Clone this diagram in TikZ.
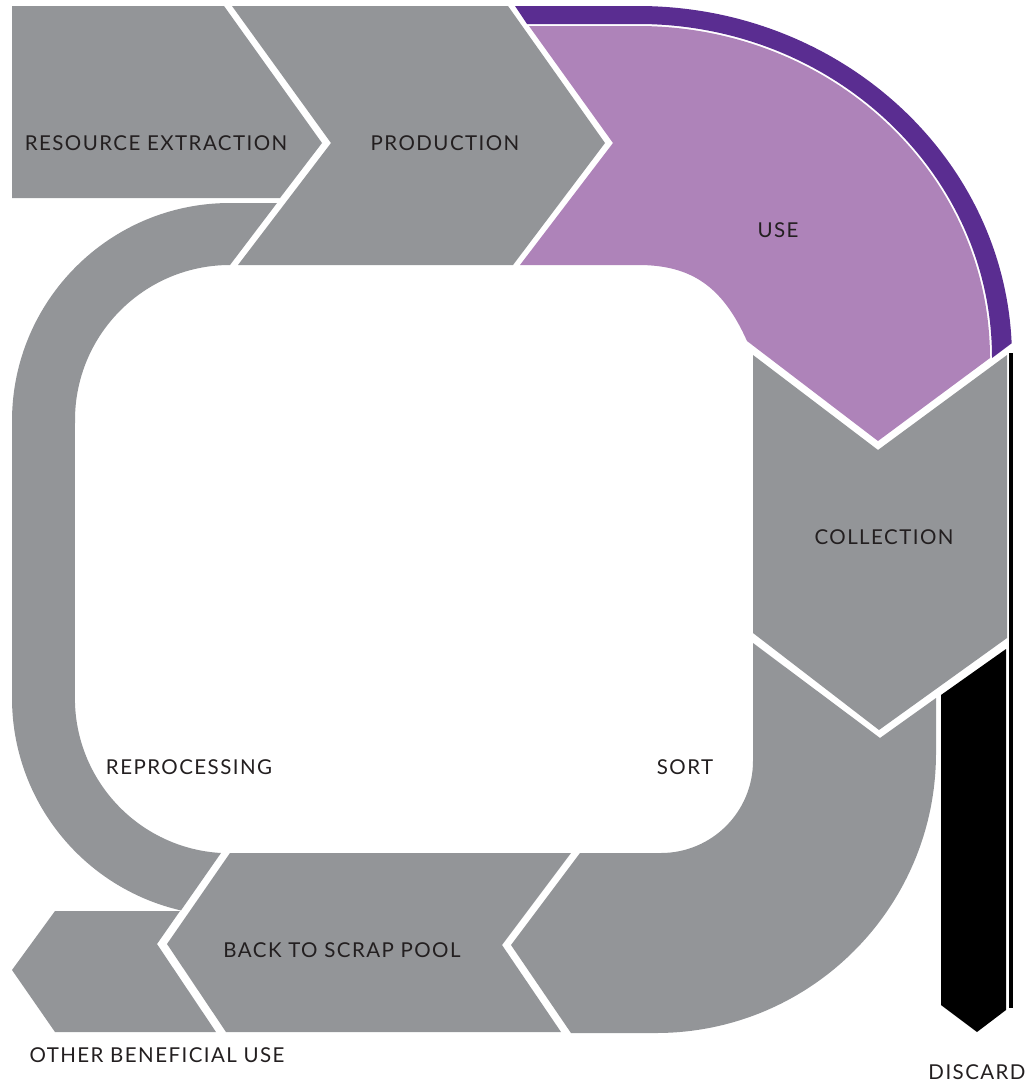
\documentclass[tikz,border=0pt]{standalone}
\usepackage{fontspec}
\setmainfont[LetterSpace=7]{Lato}
\definecolor{stagegray}{HTML}{939598}
\definecolor{uselilac}{HTML}{AE83B9}
\definecolor{usepurple}{HTML}{5A2D91}
\definecolor{labelink}{HTML}{231F20}
\begin{document}
\begin{tikzpicture}[x=1pt, y=-1pt]
\def\stagecolor{stagegray}
\def\labelfontsize{\fontsize{20.5}{24}\selectfont}
\tikzset{stagelabel/.style={font=\labelfontsize, text=labelink, inner sep=0pt}}
\useasboundingbox (0,0) rectangle (1030,1087);

\begin{scope} % TOP ROW
\fill[\stagecolor] (12,6) -- (224,6) -- (322,143) -- (280,198) -- (12,198) -- cycle;
\fill[\stagecolor] (232,6) -- (508,6) -- (605,143) -- (513,265) -- (238,265) -- (331,143) -- cycle;
\fill[usepurple] (515,6) -- (638,6) arc[start angle=270, end angle=357.6, x radius=374, y radius=352]
  -- (992,358) arc[start angle=0, end angle=-90, x radius=354, y radius=334] -- (527,24) -- cycle;
\fill[uselilac] (529,26) -- (638,26) arc[start angle=270, end angle=360, x radius=352, y radius=332]
  -- (878,441) -- (747,341) .. controls (722,285) and (690,265) .. (638,265) -- (520,265) -- (613,143) -- cycle;
\end{scope}

\begin{scope} % RIGHT SIDE
\fill[\stagecolor] (753,355) -- (878,450) -- (1007,355) -- (1007,638) -- (879,730) -- (753,633) -- cycle;
\fill[\stagecolor] (753,643) -- (880,738) -- (936,698) -- (936,753) arc[start angle=0, end angle=90, radius=280]
  -- (571,1033) -- (511,945) -- (580,853) -- (661,853) arc[start angle=90, end angle=0, radius=92] -- cycle;
\fill[black] (941,695) -- (1006,649) -- (1006,1010) -- (977,1032) -- (941,1005) -- cycle;
\draw[line width=3.5pt] (1011,353) -- (1011,1008);
\end{scope}

\begin{scope} % BOTTOM ROW AND LEFT SIDE
\fill[\stagecolor] (230,853) -- (571,853) -- (502,945) -- (561,1032) -- (226,1032) -- (167,944) -- cycle;
\fill[\stagecolor] (55,911) -- (180,911) -- (157,944) -- (216,1032) -- (55,1032) -- (12,970) -- cycle;
\fill[\stagecolor] (277,203) -- (230,203) arc[start angle=270, end angle=180, radius=218]
  -- (12,698) arc[start angle=180, end angle=103, radius=218]
  -- (221,853) arc[start angle=93.3, end angle=180, radius=155]
  -- (75,420) arc[start angle=180, end angle=270, radius=155] -- cycle;
\end{scope}

\node [stagelabel] (resource) at (156,143) {RESOURCE EXTRACTION};
\node [stagelabel] (production) at (445,143) {PRODUCTION};
\node [stagelabel] (use) at (778,230) {USE};
\node [stagelabel] (collection) at (884,537) {COLLECTION};
\node [stagelabel] (sort) at (685,767) {SORT};
\node [stagelabel] (reprocessing) at (189,767) {REPROCESSING};
\node [stagelabel] (scrappool) at (342,950) {BACK TO SCRAP POOL};
\node [stagelabel] (otheruse) at (157,1055) {OTHER BENEFICIAL USE};
\node [stagelabel] (discard) at (977,1072) {DISCARD};
\end{tikzpicture}
\end{document}
